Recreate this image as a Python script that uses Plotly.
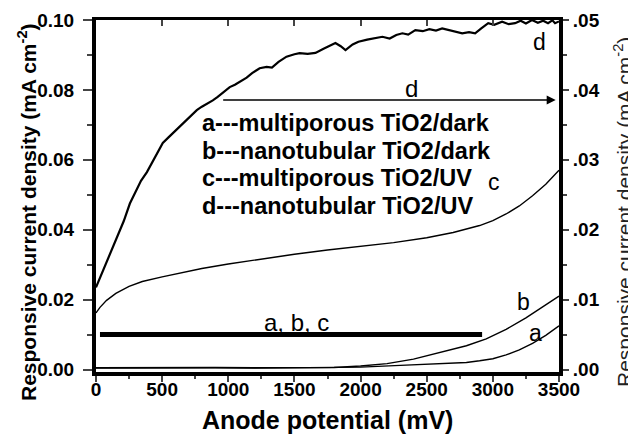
import plotly.graph_objects as go

# ---------------- data ----------------
d_x = [0, 30, 60, 100, 130, 170, 210, 256, 300, 340, 385, 430, 470, 505, 550, 590, 634, 680,
       720, 762, 800, 840, 883, 920, 960, 1011, 1050, 1090, 1139, 1180, 1237, 1290, 1330, 1380,
       1440, 1500, 1539, 1600, 1659, 1720, 1810, 1850, 1886, 1940, 1984, 2050, 2100, 2165, 2220,
       2270, 2316, 2360, 2414, 2470, 2520, 2570, 2617, 2680, 2730, 2768, 2820, 2866, 2910, 2965,
       3010, 3070, 3120, 3168, 3210, 3250, 3296, 3340, 3380, 3417, 3450, 3470, 3500]
d_y = [0.0235, 0.0262, 0.0290, 0.0330, 0.0356, 0.0390, 0.0425, 0.0475, 0.0510, 0.0540, 0.0565,
       0.0595, 0.0625, 0.0648, 0.0665, 0.0680, 0.0694, 0.0712, 0.0728, 0.0742, 0.0752, 0.0760,
       0.0770, 0.0780, 0.0792, 0.0808, 0.0815, 0.0823, 0.0835, 0.0848, 0.0862, 0.0866, 0.0864,
       0.0880, 0.0895, 0.0902, 0.0905, 0.0903, 0.0906, 0.0918, 0.0934, 0.0925, 0.0914, 0.0930,
       0.0938, 0.0944, 0.0948, 0.0952, 0.0947, 0.0957, 0.0962, 0.0958, 0.0971, 0.0968, 0.0974,
       0.0970, 0.0976, 0.0970, 0.0966, 0.0962, 0.0965, 0.0962, 0.0975, 0.0991, 0.0986, 0.0995,
       0.0988, 0.0991, 0.0998, 0.0990, 0.1000, 0.0992, 0.0998, 0.0991, 0.0999, 0.0991, 0.0996]

c_x = [0, 30, 80, 150, 250, 350, 500, 650, 800, 1000, 1250, 1500, 1750, 2000, 2250, 2500,
       2700, 2900, 3000, 3100, 3200, 3300, 3400, 3500]
c_y = [0.0162, 0.0178, 0.0198, 0.0218, 0.0238, 0.0252, 0.0265, 0.0278, 0.0289, 0.0302, 0.0317,
       0.0330, 0.0342, 0.0352, 0.0363, 0.0377, 0.0392, 0.0412, 0.0426, 0.0445, 0.0468, 0.0497,
       0.0530, 0.0570]

b_x = [0, 300, 600, 900, 1200, 1500, 1800, 2000, 2200, 2400, 2600, 2800, 2950, 3100, 3250,
       3400, 3500]
b_y = [0.0005, 0.0006, 0.0005, 0.0006, 0.0005, 0.0006, 0.0006, 0.0010, 0.0017, 0.0030, 0.0048,
       0.0068, 0.0088, 0.0115, 0.0148, 0.0185, 0.0210]

a_x = [0, 300, 600, 900, 1200, 1500, 1800, 2000, 2300, 2600, 2800, 2900, 3000, 3100, 3200,
       3300, 3400, 3500]
a_y = [0.0004, 0.0005, 0.0004, 0.0005, 0.0004, 0.0005, 0.0005, 0.0007, 0.0012, 0.0016, 0.0020,
       0.0025, 0.0031, 0.0042, 0.0056, 0.0075, 0.0098, 0.0125]

x_ticks = [0, 500, 1000, 1500, 2000, 2500, 3000, 3500]
left_ticks = [0.00, 0.02, 0.04, 0.06, 0.08, 0.10]
right_ticks = [0.00, 0.01, 0.02, 0.03, 0.04, 0.05]
right_ticktext = [".00", ".01", ".02", ".03", ".04", ".05"]

legend_lines = ["a---multiporous TiO2/dark", "b---nanotubular TiO2/dark",
                "c---multiporous TiO2/UV", "d---nanotubular TiO2/UV"]
legend_x = 785
legend_y = [0.0706, 0.0626, 0.0548, 0.0468]

curve_labels = ["d", "c", "b", "a"]
curve_label_x = [3349, 3010, 3228, 3319]
curve_label_y = [0.0937, 0.0537, 0.0193, 0.0105]

d_arrow = dict(x_from=950, x_to=3475, y=0.0771, label="d", label_x=2384, label_y=0.0805)
abc_arrow = dict(x_from=2930, x_to=30, y=0.0100, label="a, b, c", label_x=1516, label_y=0.0136)

# ---------------- figure ----------------
FONT = "Liberation Sans, Arial, sans-serif"
fig = go.Figure()
line_w = {"a": 1.4, "b": 1.4, "c": 1.4, "d": 2.2}
for name, xs, ys in [("a", a_x, a_y), ("b", b_x, b_y), ("c", c_x, c_y), ("d", d_x, d_y)]:
    fig.add_trace(go.Scatter(x=xs, y=ys, mode="lines", name=name, showlegend=False,
                             line=dict(color="black", width=line_w[name])))
# trace bound to the right/top axes so they are drawn
fig.add_trace(go.Scatter(x=[None], y=[None], xaxis="x2", yaxis="y2", showlegend=False))

tickfont = dict(family=FONT, size=19, color="black", weight="bold")

# page body has an 8px margin, so the figure is 628x429 and sits at (8, 8)
fig.update_layout(
    width=628, height=429,
    margin=dict(l=88, r=77, t=12, b=65, autoexpand=False),
    paper_bgcolor="white", plot_bgcolor="white",
    xaxis=dict(range=[0, 3500], tickvals=x_ticks, ticks="outside", ticklen=6, tickwidth=2,
               showline=True, linewidth=4, linecolor="black", showgrid=False, zeroline=False,
               tickfont=tickfont, automargin=False, ticklabelstandoff=-9,
               minor=dict(ticks="outside", ticklen=3, tickwidth=1.5, dtick=250, showgrid=False)),
    xaxis2=dict(range=[0, 3500], overlaying="x", side="top", tickvals=x_ticks, ticks="inside",
                ticklen=6, tickwidth=2, showticklabels=False, showline=True, linewidth=3,
                linecolor="black", showgrid=False, zeroline=False, automargin=False),
    yaxis=dict(range=[-0.0007, 0.1], tickvals=left_ticks, tickformat=".2f", ticks="outside",
               ticklen=9, tickwidth=2, showline=True, linewidth=4, linecolor="black",
               showgrid=False, zeroline=False, tickfont=tickfont, automargin=False,
               ticklabelstandoff=5,
               minor=dict(ticks="outside", ticklen=5, tickwidth=1.5, dtick=0.01, showgrid=False)),
    yaxis2=dict(range=[-0.00035, 0.05], overlaying="y", side="right", tickvals=right_ticks,
                ticktext=right_ticktext, ticks="outside", ticklen=6, tickwidth=2, showline=True,
                linewidth=4, linecolor="black", showgrid=False, zeroline=False,
                tickfont=tickfont, automargin=False,
                minor=dict(ticks="outside", ticklen=4, tickwidth=1.5, dtick=0.005, showgrid=False)),
)

ann = []
# axis titles
ann.append(dict(text="Anode potential (mV)", xref="paper", yref="paper", x=0.5, y=0,
                yshift=-48, showarrow=False, xanchor="center", yanchor="middle",
                font=dict(family=FONT, size=25, color="black", weight="bold")))
ytitle = "Responsive current density (mA cm<sup>-2</sup>)"
ann.append(dict(text=ytitle, xref="paper", yref="paper", x=0, y=0.5, xshift=-69, yshift=-16,
                showarrow=False, textangle=-90, xanchor="center", yanchor="middle",
                font=dict(family=FONT, size=21, color="black", weight="bold")))
ann.append(dict(text=ytitle, xref="paper", yref="paper", x=1, y=0.5, xshift=64, yshift=-16,
                showarrow=False, textangle=-90, xanchor="center", yanchor="middle",
                font=dict(family=FONT, size=21, color="#222", weight="normal")))
# legend text block
for t, yy in zip(legend_lines, legend_y):
    ann.append(dict(text=t, x=legend_x, y=yy, xref="x", yref="y", showarrow=False,
                    xanchor="left", yanchor="middle",
                    font=dict(family=FONT, size=23.5, color="black", weight="bold")))
# curve labels
for t, xx, yy in zip(curve_labels, curve_label_x, curve_label_y):
    ann.append(dict(text=t, x=xx, y=yy, xref="x", yref="y", showarrow=False,
                    xanchor="center", yanchor="middle",
                    font=dict(family=FONT, size=23, color="black")))
# arrows
for arr, w, head in [(d_arrow, 1.5, 2), (abc_arrow, 5, 0)]:
    ann.append(dict(text="", x=arr["x_to"], y=arr["y"], ax=arr["x_from"], ay=arr["y"],
                    xref="x", yref="y", axref="x", ayref="y", showarrow=True,
                    arrowhead=head, arrowsize=1.2 if head else 1, arrowwidth=w,
                    arrowcolor="black", standoff=0, startstandoff=0))
    ann.append(dict(text=arr["label"], x=arr["label_x"], y=arr["label_y"], xref="x", yref="y",
                    showarrow=False, xanchor="center", yanchor="middle",
                    font=dict(family=FONT, size=24, color="black")))
fig.update_layout(annotations=ann)

fig.write_html("out.html")
